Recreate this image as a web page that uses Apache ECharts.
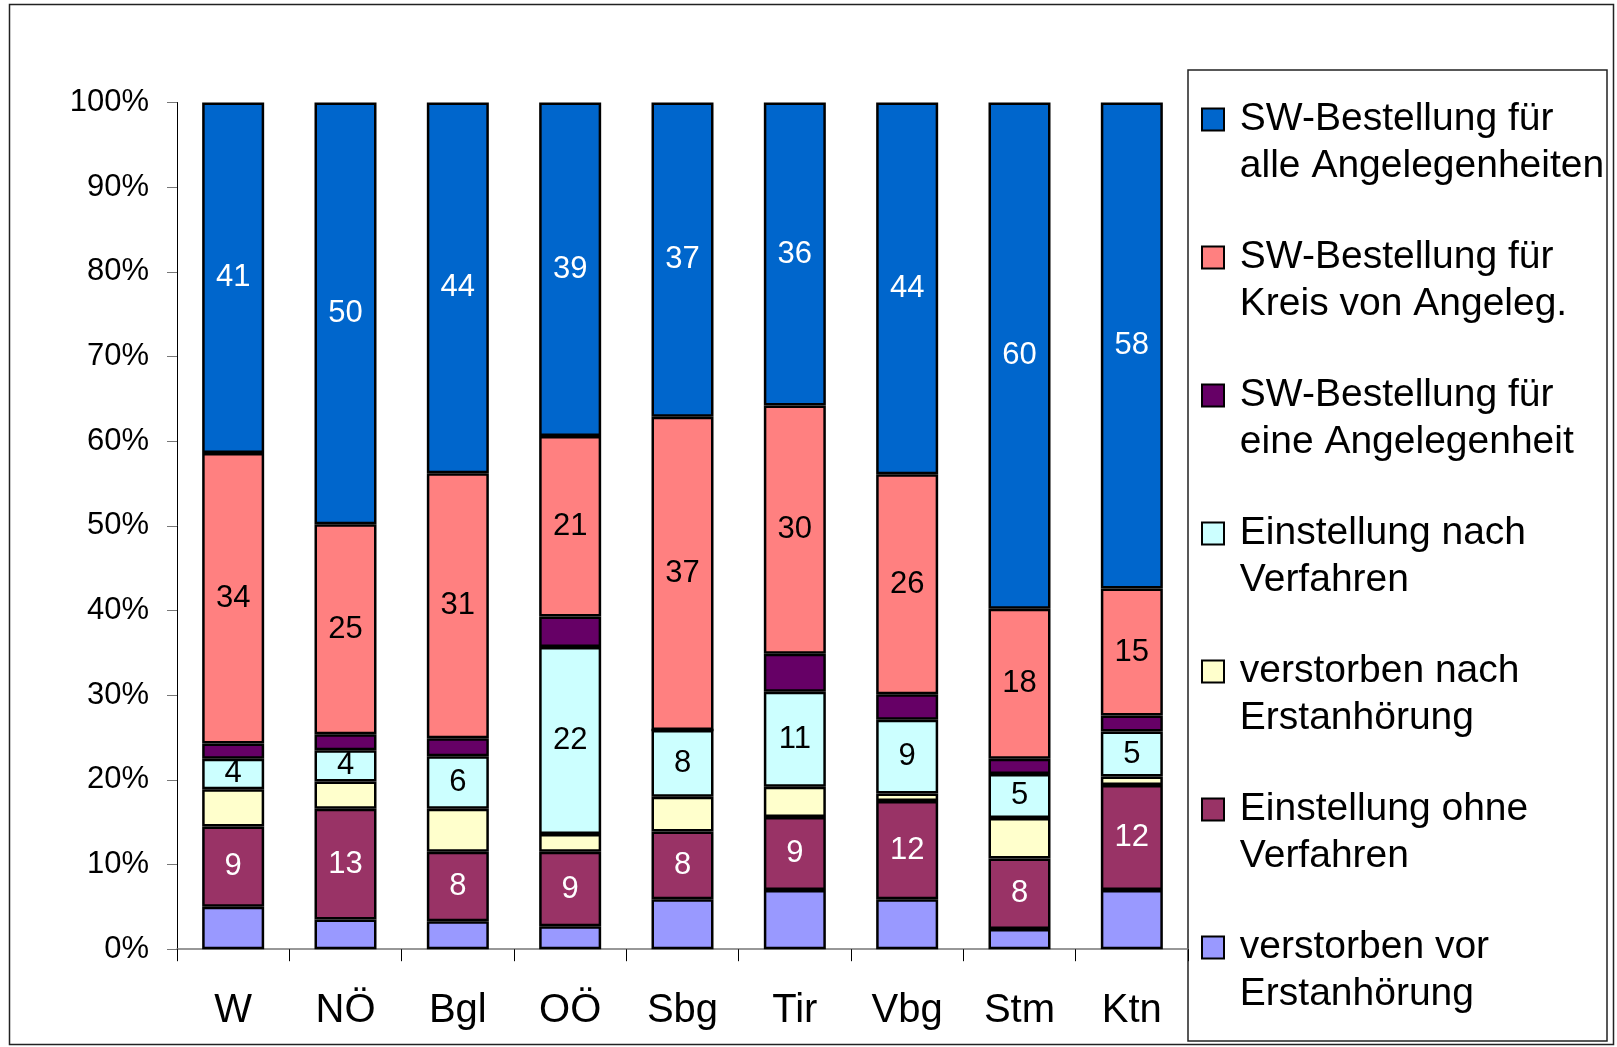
<!DOCTYPE html>
<html>
<head>
<meta charset="utf-8">
<script src="https://cdn.jsdelivr.net/npm/echarts@6/dist/echarts.min.js"></script>
<style>
html,body{margin:0;padding:0;background:#fff;}
#chart{width:1617px;height:1047px;}
</style>
</head>
<body>
<div id="chart"></div>
<script>
// Categories (Bundesländer)
const categories = ['W', 'NÖ', 'Bgl', 'OÖ', 'Sbg', 'Tir', 'Vbg', 'Stm', 'Ktn'];

// Series names (bottom to top in the stack)
const seriesNames = [
  'verstorben vor\nErstanhörung',
  'Einstellung ohne\nVerfahren',
  'verstorben nach\nErstanhörung',
  'Einstellung nach\nVerfahren',
  'SW-Bestellung für\neine Angelegenheit',
  'SW-Bestellung für\nKreis von Angeleg.',
  'SW-Bestellung für\nalle Angelegenheiten'
];

// Segment shares in %
const verstVor   = [5.0, 3.5, 3.3, 2.7, 5.9, 7.0, 5.9, 2.4, 7.0];
const einstOhne  = [9.5, 13.1, 8.2, 8.8, 8.0, 8.6, 11.6, 8.3, 12.4];
const verstNach  = [4.4, 3.2, 5.1, 2.1, 4.1, 3.6, 0.9, 4.8, 1.0];
const einstNach  = [3.6, 3.7, 6.2, 22.1, 7.9, 11.2, 8.7, 5.2, 5.3];
const swEine     = [1.8, 1.9, 2.1, 3.6, 0, 4.5, 3.0, 1.8, 1.9];
const swKreis    = [34.3, 24.8, 31.3, 21.3, 37.0, 29.3, 26.0, 17.7, 15.0];
const swAlle     = [41.4, 49.8, 43.8, 39.4, 37.1, 35.8, 43.9, 59.8, 57.4];

// Printed data labels
const labelsEinstOhne = [9, 13, 8, 9, 8, 9, 12, 8, 12];
const labelsEinstNach = [4, 4, 6, 22, 8, 11, 9, 5, 5];
const labelsKreis     = [34, 25, 31, 21, 37, 30, 26, 18, 15];
const labelsAlle      = [41, 50, 44, 39, 37, 36, 44, 60, 58];

// Y tick labels
const yTicks = ['0%', '10%', '20%', '30%', '40%', '50%', '60%', '70%', '80%', '90%', '100%'];

const colors = ['#9999FF', '#993366', '#FFFFCC', '#CCFFFF', '#660066', '#FF8080', '#0066CC'];
const values = [verstVor, einstOhne, verstNach, einstNach, swEine, swKreis, swAlle];
const labels = [null, labelsEinstOhne, null, labelsEinstNach, null, labelsKreis, labelsAlle];
const labelColors = [null, '#ffffff', null, '#000000', null, '#000000', '#ffffff'];

const FONT = '"Liberation Sans", Arial, sans-serif';

const series = values.map((vals, i) => ({
  name: seriesNames[i],
  type: 'bar',
  stack: 'total',
  barWidth: 62,
  data: vals,
  itemStyle: { color: colors[i], borderColor: '#000', borderWidth: 2.5 },
  label: labels[i] ? {
    show: true,
    position: 'inside',
    color: labelColors[i],
    fontFamily: FONT,
    fontSize: 31,
    formatter: p => String(labels[i][p.dataIndex])
  } : { show: false },
  emphasis: { disabled: true },
  animation: false
}));

const chart = echarts.init(document.getElementById('chart'), null, { renderer: 'canvas' });
chart.setOption({
  animation: false,
  backgroundColor: '#ffffff',
  grid: { left: 177, top: 102.5, width: 1011, height: 846.7, containLabel: false },
  xAxis: {
    type: 'category',
    data: categories,
    axisLine: { lineStyle: { color: '#777', width: 1.5 } },
    axisTick: { show: true, length: 12, lineStyle: { color: '#000', width: 1 } },
    axisLabel: { color: '#000', fontFamily: FONT, fontSize: 40, margin: 42 }
  },
  yAxis: {
    type: 'value',
    min: 0, max: 100, interval: 10,
    axisLine: { show: true, lineStyle: { color: '#000', width: 1 } },
    axisTick: { show: true, length: 10, lineStyle: { color: '#777', width: 1 } },
    splitLine: { show: false },
    axisLabel: {
      color: '#000', fontFamily: FONT, fontSize: 31, margin: 28,
      formatter: v => yTicks[Math.round(v / 10)]
    }
  },
  legend: {
    orient: 'vertical',
    left: 1201,
    top: 49,
    padding: 0,
    itemGap: -3,
    itemWidth: 22,
    itemHeight: 22,
    icon: 'rect',
    selectedMode: false,
    data: seriesNames.slice().reverse(),
    formatter: name => '\n' + name.split('\n').map(s => ' ' + s).join('\n'),
    textStyle: { color: '#000', fontFamily: FONT, fontSize: 39, lineHeight: 47 }
  },
  graphic: [
    { type: 'rect', silent: true, z: -1,
      shape: { x: 1188, y: 70, width: 419, height: 971 },
      style: { fill: '#fff', stroke: '#222', lineWidth: 1.5 } },
    { type: 'rect', silent: true, z: -2,
      shape: { x: 9.5, y: 4.5, width: 1604, height: 1040 },
      style: { fill: 'none', stroke: '#222', lineWidth: 1.5 } }
  ],
  series: series
});
</script>
</body>
</html>
